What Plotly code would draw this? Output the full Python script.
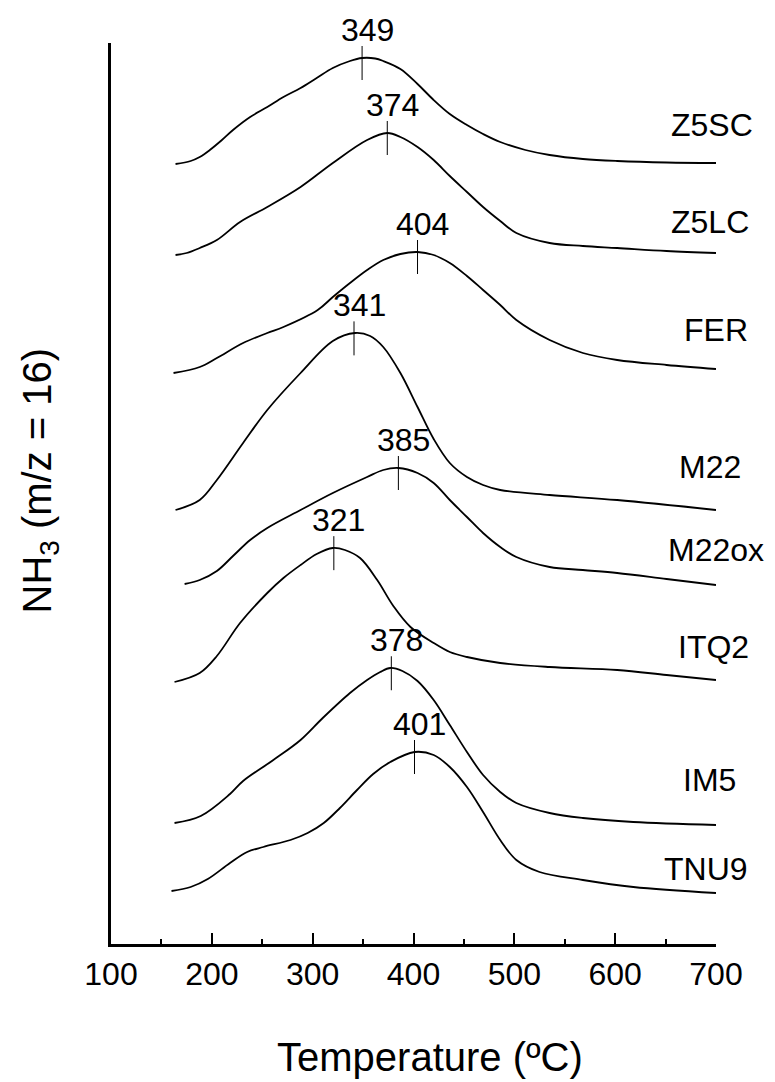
import numpy as np
import plotly.graph_objects as go

# ---- data (temperature in ºC, signal in arbitrary stacked units) ----
samples = ["Z5SC", "Z5LC", "FER", "M22", "M22ox", "ITQ2", "IM5", "TNU9"]
peak_temps = [349, 374, 404, 341, 385, 321, 378, 401]

z5sc_t = [164, 179, 188, 198, 210, 221, 238, 255, 271, 288, 304, 320, 337, 349, 362, 370, 387, 404, 419, 436, 453, 469, 486, 511, 535, 568, 602, 651, 700]
z5sc_v = [780, 783, 787, 794, 804, 814, 827, 837, 847, 856, 866, 876, 883, 886, 885.5, 883, 875, 860, 845, 830, 819, 810, 802, 794, 789, 785, 783, 781.5, 781]

z5lc_t = [164, 175, 188, 205, 228, 255, 288, 320, 354, 374, 387, 404, 420, 436, 453, 469, 486, 502, 535, 568, 602, 651, 700]
z5lc_v = [689, 691, 696, 704, 722, 737, 757, 781, 804, 811, 807, 797, 784, 768, 752, 737, 723, 711, 701, 698, 696, 693, 691]

fer_t = [162, 188, 205, 231, 255, 271, 305, 320, 337, 354, 370, 387, 404, 420, 436, 453, 469, 486, 502, 535, 568, 602, 651, 700]
fer_v = [571, 577, 586, 601, 611, 617, 634, 647, 661, 674, 684, 690, 692, 689, 681, 668, 654, 639, 624, 604, 591, 584, 579, 575]

m22_t = [164, 188, 205, 231, 255, 288, 320, 342, 357, 370, 387, 404, 420, 436, 453, 469, 486, 535, 602, 700]
m22_v = [434, 444, 464, 501, 534, 571, 603, 611, 608, 597, 571, 537, 505, 481, 467, 459, 454, 449, 444, 434]

m22ox_t = [173, 188, 205, 221, 238, 255, 288, 320, 354, 370, 385, 404, 420, 436, 453, 469, 486, 502, 535, 568, 602, 651, 700]
m22ox_v = [360, 364, 373, 388, 404, 416, 434, 451, 467, 474, 476, 471, 461, 444, 427, 411, 397, 387, 377, 374, 371, 365, 359]

itq2_t = [163, 188, 205, 228, 255, 271, 288, 304, 320, 332, 347, 364, 380, 397, 420, 436, 453, 486, 535, 602, 651, 700]
itq2_v = [262, 271, 288, 321, 351, 366, 379, 390, 396, 394, 386, 364, 338, 317, 301, 292, 287, 281, 277, 274, 269, 264]

im5_t = [163, 189, 218, 231, 261, 288, 310, 337, 354, 367, 377, 389, 404, 420, 436, 453, 469, 486, 502, 535, 568, 618, 700]
im5_v = [121, 128, 150, 163, 184, 204, 226, 251, 264, 272, 276, 273, 263, 244, 219, 192, 169, 152, 141, 131, 126, 122, 119]

tnu9_t = [160, 179, 196, 218, 235, 251, 278, 295, 311, 327, 344, 360, 377, 401, 420, 436, 453, 469, 486, 502, 525, 568, 618, 700]
tnu9_v = [53, 57, 65, 81, 92, 97, 104, 111, 121, 136, 154, 170, 182, 192, 189, 177, 157, 132, 104, 84, 72, 64, 57, 51]

x_tick_vals = [100, 200, 300, 400, 500, 600, 700]
x_tick_text = ["100", "200", "300", "400", "500", "600", "700"]

curves = [
    (z5sc_t, z5sc_v), (z5lc_t, z5lc_v), (fer_t, fer_v), (m22_t, m22_v),
    (m22ox_t, m22ox_v), (itq2_t, itq2_v), (im5_t, im5_v), (tnu9_t, tnu9_v),
]

# ---- layout constants (label placement) ----
label_x = [696, 694, 700, 694, 700, 698, 694, 690]
label_y = [819, 722, 614, 477, 394, 297, 164, 75]

FONT = "Liberation Sans, Arial, sans-serif"

fig = go.Figure()
annotations = []
shapes = []

for name, (t, v), pk, lx, ly in zip(samples, curves, peak_temps, label_x, label_y):
    fig.add_trace(go.Scatter(
        x=t, y=v, mode="lines", name=name,
        line=dict(color="black", width=1.8, shape="spline", smoothing=1.0),
        showlegend=False, hoverinfo="skip",
    ))
    pv = float(np.interp(pk, t, v))
    y_top = pv + 12
    y_bot = pv - 22
    shapes.append(dict(type="line", xref="x", yref="y", x0=pk, x1=pk, y0=y_bot, y1=y_top,
                       line=dict(color="black", width=1)))
    annotations.append(dict(x=pk, y=y_top, xref="x", yref="y", text=str(pk), showarrow=False,
                            xanchor="center", yanchor="bottom", xshift=5, yshift=-4,
                            font=dict(family=FONT, size=32, color="black")))
    annotations.append(dict(x=lx, y=ly, xref="x", yref="y", text=name, showarrow=False,
                            xanchor="center", yanchor="middle",
                            font=dict(family=FONT, size=32, color="black")))

annotations.append(dict(x=0.527, y=-0.125, xref="paper", yref="paper",
                        text="Temperature (ºC)", showarrow=False,
                        xanchor="center", yanchor="middle",
                        font=dict(family=FONT, size=40, color="black")))
annotations.append(dict(x=-0.118, y=0.514, xref="paper", yref="paper",
                        text="NH<sub>3</sub> (m/z = 16)", showarrow=False, textangle=-90,
                        xanchor="center", yanchor="middle",
                        font=dict(family=FONT, size=40, color="black")))

fig.update_layout(
    width=775, height=1082,
    margin=dict(l=111, r=59, t=43, b=138, pad=0),
    paper_bgcolor="white", plot_bgcolor="white",
    annotations=annotations, shapes=shapes,
    font=dict(family=FONT, color="black"),
)
fig.update_xaxes(
    range=[100, 700], showgrid=False, zeroline=False,
    showline=True, linecolor="black", linewidth=2.5,
    ticks="inside", ticklen=11, tickwidth=2, tickcolor="black",
    tickvals=x_tick_vals, ticktext=x_tick_text,
    tickfont=dict(family=FONT, size=32, color="black"),
    minor=dict(ticks="inside", ticklen=5, tickwidth=2, tickcolor="black", dtick=50, tick0=100, showgrid=False),
)
fig.update_yaxes(
    range=[0, 901], showgrid=False, zeroline=False,
    showline=True, linecolor="black", linewidth=2.5,
    ticks="", showticklabels=False,
)

fig.write_html("out.html")
